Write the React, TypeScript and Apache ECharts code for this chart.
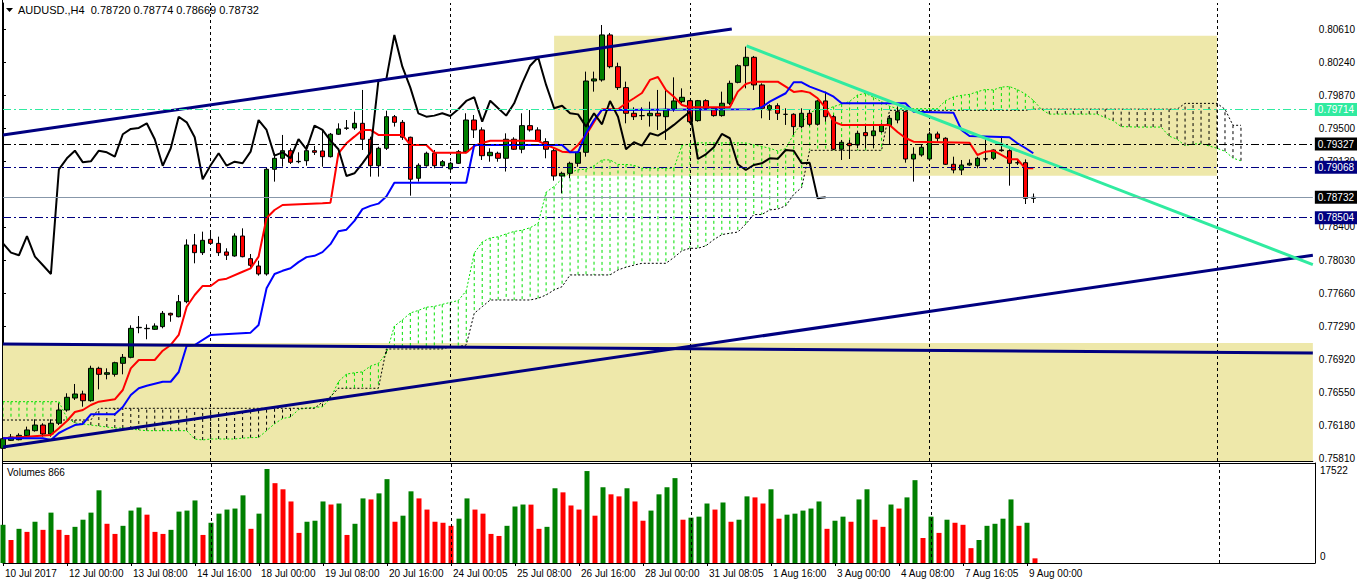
import React, { useEffect, useRef } from 'react';
import * as echarts from 'echarts';

// ---------- data ----------
const symbolName = 'AUDUSD.,H4';
const timeLabels = ['10 Jul 2017', '12 Jul 00:00', '13 Jul 08:00', '14 Jul 16:00', '18 Jul 00:00', '19 Jul 08:00', '20 Jul 16:00', '24 Jul 00:05', '25 Jul 08:00', '26 Jul 16:00', '28 Jul 00:00', '31 Jul 08:05', '1 Aug 16:00', '3 Aug 00:00', '4 Aug 08:00', '7 Aug 16:05', '9 Aug 00:00'];

const opens = [
  0.75926, 0.76015, 0.76022, 0.76067, 0.76123, 0.76186, 0.76086, 0.76206, 0.76354, 0.76488,
  0.76533, 0.76458, 0.76820, 0.76753, 0.76753, 0.76876, 0.76943, 0.77274, 0.77263, 0.77256,
  0.77286, 0.77435, 0.77397, 0.77565, 0.78199, 0.78113, 0.78262, 0.78217, 0.78121, 0.78076,
  0.78299, 0.78046, 0.77964, 0.77875, 0.79045, 0.79168, 0.79253, 0.79130, 0.79141, 0.79253,
  0.79250, 0.79186, 0.79437, 0.79503, 0.79507, 0.79559, 0.79381, 0.79085, 0.79280, 0.79633,
  0.79570, 0.79403, 0.78945, 0.79085, 0.79224, 0.79085, 0.79049, 0.79112, 0.79242, 0.79596,
  0.79485, 0.79197, 0.79224, 0.79168, 0.79381, 0.79269, 0.79533, 0.79485, 0.79354, 0.79253,
  0.78970, 0.79000, 0.79112, 0.79235, 0.80032, 0.80044, 0.80547, 0.80192, 0.79958, 0.79671,
  0.79644, 0.79644, 0.79671, 0.79633, 0.79716, 0.79801, 0.79812, 0.79589, 0.79812, 0.79727,
  0.79645, 0.79783, 0.80017, 0.80203, 0.80297, 0.79988, 0.79708, 0.79756, 0.79660, 0.79660,
  0.79522, 0.79671, 0.79548, 0.79809, 0.79633, 0.79269, 0.79336, 0.79317, 0.79455, 0.79421,
  0.79466, 0.79533, 0.79596, 0.79689, 0.79160, 0.79205, 0.79160, 0.79440, 0.79392, 0.79101,
  0.79037, 0.79093, 0.79085, 0.79160, 0.79168, 0.79261, 0.79253, 0.79119, 0.79119, 0.78720,
];
const closes = [
  0.76033, 0.76052, 0.76071, 0.76131, 0.76186, 0.76086, 0.76206, 0.76354, 0.76496, 0.76533,
  0.76458, 0.76820, 0.76753, 0.76771, 0.76883, 0.76943, 0.77267, 0.77278, 0.77267, 0.77293,
  0.77435, 0.77416, 0.77565, 0.78199, 0.78113, 0.78251, 0.78217, 0.78113, 0.78084, 0.78299,
  0.78068, 0.77972, 0.77875, 0.79045, 0.79168, 0.79253, 0.79123, 0.79134, 0.79253, 0.79235,
  0.79186, 0.79437, 0.79496, 0.79507, 0.79559, 0.79381, 0.79085, 0.79280, 0.79633, 0.79570,
  0.79403, 0.78934, 0.79090, 0.79224, 0.79085, 0.79130, 0.79112, 0.79242, 0.79596, 0.79485,
  0.79197, 0.79235, 0.79168, 0.79381, 0.79269, 0.79533, 0.79485, 0.79365, 0.79269, 0.78970,
  0.79000, 0.79112, 0.79235, 0.80032, 0.80055, 0.80547, 0.80192, 0.79958, 0.79671, 0.79633,
  0.79645, 0.79671, 0.79641, 0.79716, 0.79809, 0.79850, 0.79577, 0.79812, 0.79727, 0.79645,
  0.79783, 0.80006, 0.80203, 0.80297, 0.79988, 0.79727, 0.79756, 0.79671, 0.79659, 0.79522,
  0.79671, 0.79548, 0.79809, 0.79633, 0.79269, 0.79347, 0.79309, 0.79447, 0.79421, 0.79474,
  0.79541, 0.79615, 0.79689, 0.79160, 0.79213, 0.79291, 0.79440, 0.79392, 0.79101, 0.79037,
  0.79093, 0.79112, 0.79168, 0.79162, 0.79261, 0.79253, 0.79112, 0.79117, 0.78720, 0.78732,
];
const lows = [
  0.75907, 0.76008, 0.76015, 0.76056, 0.76112, 0.76056, 0.76056, 0.76186, 0.76335, 0.76466,
  0.76391, 0.76447, 0.76585, 0.76697, 0.76727, 0.76753, 0.76932, 0.77212, 0.77145, 0.77249,
  0.77267, 0.77341, 0.77390, 0.77547, 0.77994, 0.78087, 0.78199, 0.78076, 0.78031, 0.78068,
  0.78061, 0.77931, 0.77856, 0.77856, 0.78907, 0.79074, 0.79104, 0.79112, 0.79085, 0.79205,
  0.79074, 0.79177, 0.79429, 0.79485, 0.79485, 0.79261, 0.78963, 0.78963, 0.79261, 0.79522,
  0.79373, 0.78750, 0.78907, 0.79074, 0.79056, 0.79074, 0.79020, 0.79104, 0.79224, 0.79395,
  0.79149, 0.79130, 0.79130, 0.79020, 0.79261, 0.79224, 0.79466, 0.79354, 0.79168, 0.78918,
  0.78777, 0.78945, 0.79074, 0.79186, 0.79913, 0.80025, 0.80174, 0.79932, 0.79559, 0.79596,
  0.79596, 0.79522, 0.79485, 0.79373, 0.79689, 0.79783, 0.79559, 0.79577, 0.79708, 0.79633,
  0.79633, 0.79764, 0.80006, 0.79950, 0.79932, 0.79615, 0.79596, 0.79596, 0.79541, 0.79429,
  0.79503, 0.79529, 0.79533, 0.79577, 0.79261, 0.79149, 0.79160, 0.79280, 0.79280, 0.79280,
  0.79455, 0.79325, 0.79559, 0.79119, 0.78907, 0.79186, 0.79149, 0.79354, 0.79093, 0.79000,
  0.78981, 0.79085, 0.79056, 0.79130, 0.79149, 0.79242, 0.78862, 0.79093, 0.78657, 0.78669,
];
const highs = [
  0.76064, 0.76086, 0.76094, 0.76168, 0.76250, 0.76206, 0.76250, 0.76429, 0.76541, 0.76645,
  0.76570, 0.76849, 0.76838, 0.76820, 0.76894, 0.76980, 0.77301, 0.77405, 0.77312, 0.77323,
  0.77461, 0.77442, 0.77640, 0.78262, 0.78322, 0.78348, 0.78337, 0.78292, 0.78162, 0.78329,
  0.78385, 0.78098, 0.78023, 0.79060, 0.79224, 0.79429, 0.79280, 0.79235, 0.79317, 0.79306,
  0.79485, 0.79451, 0.79559, 0.79596, 0.79689, 0.79932, 0.79410, 0.79298, 0.79700, 0.79652,
  0.79596, 0.79410, 0.79112, 0.79242, 0.79261, 0.79149, 0.79130, 0.79261, 0.79671, 0.79652,
  0.79515, 0.79280, 0.79242, 0.79447, 0.79403, 0.79671, 0.79708, 0.79515, 0.79392, 0.79280,
  0.79018, 0.79130, 0.79242, 0.80137, 0.80137, 0.80658, 0.80569, 0.80237, 0.80025, 0.79738,
  0.79738, 0.79801, 0.79932, 0.79940, 0.80073, 0.79950, 0.79820, 0.79820, 0.79828, 0.79738,
  0.79913, 0.80036, 0.80218, 0.80416, 0.80312, 0.80006, 0.79772, 0.79783, 0.79727, 0.79671,
  0.79727, 0.79708, 0.79820, 0.79913, 0.79652, 0.79373, 0.79373, 0.79477, 0.79541, 0.79541,
  0.79559, 0.79652, 0.79747, 0.79700, 0.79291, 0.79317, 0.79466, 0.79466, 0.79403, 0.79186,
  0.79149, 0.79156, 0.79186, 0.79392, 0.79269, 0.79418, 0.79269, 0.79156, 0.79156, 0.78774,
];
const volumes = [
  7120, 4290, 6370, 5800, 7690, 6180, 9390, 6180, 5230, 6740,
  8070, 9390, 13550, 7310, 5420, 6930, 9770, 10340, 9010, 5800,
  5420, 6180, 9580, 9770, 11660, 5230, 7500, 9200, 9960, 10150,
  12610, 6370, 9200, 17522, 14880, 13740, 11470, 5610, 7690, 7880,
  11470, 10900, 11090, 5230, 7310, 12040, 11850, 12980, 15630, 7690,
  8820, 13360, 12040, 9960, 7690, 7500, 6930, 8260, 12040, 9960,
  9200, 5420, 5040, 6930, 10530, 10900, 10880, 6370, 6740, 13930,
  13170, 10720, 9960, 17140, 8820, 14120, 12800, 12420, 13930, 11470,
  7880, 9770, 12800, 14120, 15820, 8070, 8450, 8640, 11090, 9960,
  11280, 7690, 8070, 12420, 12230, 11090, 13740, 8260, 9010, 9200,
  9770, 10150, 11470, 6370, 7880, 8640, 7690, 11850, 13740, 8070,
  6740, 10900, 10150, 12230, 15440, 4660, 8640, 5610, 8070, 7500,
  7120, 2770, 4290, 6930, 7310, 8260, 11850, 6930, 7500, 866,
];
// Ichimoku Tenkan-sen / Kijun-sen breakpoints [bar, price]
const tenkan = [
  [0, 0.76038], [3, 0.76056], [6, 0.76075], [7, 0.76149], [8, 0.76231], [9, 0.76332], [10, 0.76354], [11, 0.76410], [12, 0.76447], [14, 0.76474],
  [15, 0.76578], [16, 0.76820], [17, 0.76913], [19, 0.76913], [20, 0.77017], [21, 0.77081], [22, 0.77193], [23, 0.77509], [24, 0.77640], [25, 0.77741],
  [26, 0.77741], [27, 0.77808], [28, 0.77822], [30, 0.77900], [31, 0.77938], [32, 0.78068], [33, 0.78501], [34, 0.78590], [35, 0.78646], [40, 0.78665],
  [41, 0.78672], [42, 0.79224], [43, 0.79336], [44, 0.79410], [45, 0.79485], [46, 0.79485], [47, 0.79429], [50, 0.79429], [51, 0.79317], [53, 0.79317],
  [54, 0.79231], [58, 0.79231], [59, 0.79306], [60, 0.79339], [61, 0.79365], [66, 0.79365], [67, 0.79362], [68, 0.79317], [69, 0.79283], [70, 0.79242],
  [71, 0.79235], [72, 0.79317], [73, 0.79429], [74, 0.79574], [75, 0.79716], [77, 0.79716], [78, 0.79783], [79, 0.79839], [80, 0.79898], [81, 0.80044],
  [82, 0.80077], [83, 0.79932], [84, 0.79857], [85, 0.79764], [86, 0.79738], [91, 0.79738], [92, 0.79913], [93, 0.79999], [94, 0.80025], [97, 0.80025],
  [98, 0.79969], [99, 0.79910], [100, 0.79921], [101, 0.79902], [102, 0.79839], [103, 0.79731], [104, 0.79577], [105, 0.79541], [111, 0.79541], [112, 0.79462],
  [113, 0.79395], [114, 0.79354], [121, 0.79343], [122, 0.79205], [123, 0.79242], [124, 0.79253], [125, 0.79205], [126, 0.79157], [127, 0.79157], [128, 0.79056],
  [129, 0.79056],
];
const kijun = [
  [0, 0.76038], [5, 0.76038], [6, 0.76019], [7, 0.76097], [8, 0.76142], [9, 0.76186], [10, 0.76198], [11, 0.76306], [14, 0.76306], [15, 0.76388],
  [16, 0.76522], [17, 0.76597], [18, 0.76626], [20, 0.76670], [21, 0.76670], [22, 0.76779], [23, 0.77073], [24, 0.77081], [26, 0.77193], [31, 0.77219],
  [32, 0.77305], [33, 0.77715], [34, 0.77875], [35, 0.77910], [36, 0.77938], [37, 0.78007], [38, 0.78063], [39, 0.78078], [40, 0.78119], [41, 0.78208],
  [42, 0.78352], [43, 0.78370], [44, 0.78469], [45, 0.78600], [46, 0.78636], [47, 0.78661], [48, 0.78740], [49, 0.78894], [58, 0.78894], [59, 0.79317],
  [70, 0.79317], [71, 0.79235], [72, 0.79235], [73, 0.79447], [74, 0.79596], [75, 0.79708], [94, 0.79716], [95, 0.79738], [96, 0.79801], [98, 0.79895],
  [99, 0.80018], [100, 0.80018], [101, 0.79969], [103, 0.79902], [104, 0.79857], [105, 0.79783], [113, 0.79783], [114, 0.79689], [119, 0.79678], [120, 0.79485],
  [121, 0.79418], [126, 0.79403], [127, 0.79336], [128, 0.79283], [129, 0.79224],
];
// Senkou Span A / B per bar (bars 0..155, shifted 26 bars ahead)
const spanA = [
  0.76447, 0.76447, 0.76447, 0.76447, 0.76447, 0.76447, 0.76447, 0.76447, 0.76265, 0.76209,
  0.76198, 0.76186, 0.76175, 0.76164, 0.76153, 0.76153, 0.76142, 0.76131, 0.76123, 0.76123,
  0.76123, 0.76123, 0.76123, 0.76123, 0.76030, 0.76019, 0.76030, 0.76030, 0.76030, 0.76030,
  0.76040, 0.76045, 0.76047, 0.76123, 0.76200, 0.76259, 0.76276, 0.76358, 0.76377, 0.76383,
  0.76390, 0.76483, 0.76671, 0.76755, 0.76770, 0.76780, 0.76844, 0.76876, 0.76986, 0.77291,
  0.77361, 0.77439, 0.77467, 0.77503, 0.77512, 0.77535, 0.77557, 0.77578, 0.77686, 0.78108,
  0.78232, 0.78278, 0.78290, 0.78323, 0.78350, 0.78364, 0.78392, 0.78440, 0.78788, 0.78853,
  0.78940, 0.79010, 0.79040, 0.79045, 0.79085, 0.79150, 0.79150, 0.79099, 0.79099, 0.79090,
  0.79056, 0.79056, 0.79056, 0.79056, 0.79056, 0.79312, 0.79328, 0.79341, 0.79341, 0.79341,
  0.79341, 0.79341, 0.79341, 0.79340, 0.79317, 0.79300, 0.79280, 0.79250, 0.79276, 0.79438,
  0.79560, 0.79680, 0.79712, 0.79712, 0.79746, 0.79774, 0.79803, 0.79876, 0.79893, 0.79850,
  0.79800, 0.79750, 0.79723, 0.79723, 0.79723, 0.79723, 0.79723, 0.79723, 0.79811, 0.79854,
  0.79871, 0.79882, 0.79913, 0.79937, 0.79932, 0.79964, 0.79970, 0.79936, 0.79888, 0.79817,
  0.79717, 0.79662, 0.79662, 0.79662, 0.79662, 0.79662, 0.79662, 0.79662, 0.79623, 0.79589,
  0.79522, 0.79520, 0.79517, 0.79517, 0.79517, 0.79517, 0.79416, 0.79381, 0.79310, 0.79327,
  0.79331, 0.79306, 0.79280, 0.79247, 0.79170, 0.79140,
];
const spanB = [
  0.76242, 0.76242, 0.76242, 0.76242, 0.76242, 0.76242, 0.76242, 0.76242, 0.76242, 0.76242,
  0.76242, 0.76242, 0.76373, 0.76373, 0.76373, 0.76373, 0.76373, 0.76373, 0.76373, 0.76373,
  0.76373, 0.76373, 0.76373, 0.76373, 0.76373, 0.76373, 0.76373, 0.76373, 0.76373, 0.76373,
  0.76373, 0.76373, 0.76373, 0.76373, 0.76373, 0.76373, 0.76373, 0.76373, 0.76373, 0.76373,
  0.76443, 0.76503, 0.76597, 0.76597, 0.76597, 0.76597, 0.76597, 0.76597, 0.77036, 0.77036,
  0.77036, 0.77036, 0.77036, 0.77036, 0.77036, 0.77036, 0.77062, 0.77062, 0.77081, 0.77435,
  0.77509, 0.77584, 0.77584, 0.77584, 0.77584, 0.77584, 0.77584, 0.77603, 0.77640, 0.77696,
  0.77733, 0.77864, 0.77864, 0.77864, 0.77864, 0.77864, 0.77864, 0.77920, 0.77950, 0.77974,
  0.77994, 0.77994, 0.77994, 0.77994, 0.78059, 0.78134, 0.78162, 0.78162, 0.78190, 0.78259,
  0.78315, 0.78330, 0.78343, 0.78432, 0.78539, 0.78539, 0.78591, 0.78600, 0.78637, 0.78764,
  0.78842, 0.79257, 0.79257, 0.79257, 0.79257, 0.79257, 0.79257, 0.79257, 0.79257, 0.79257,
  0.79257, 0.79704, 0.79704, 0.79704, 0.79704, 0.79704, 0.79704, 0.79704, 0.79704, 0.79704,
  0.79704, 0.79704, 0.79704, 0.79704, 0.79704, 0.79704, 0.79704, 0.79704, 0.79704, 0.79717,
  0.79717, 0.79717, 0.79717, 0.79717, 0.79717, 0.79717, 0.79717, 0.79717, 0.79717, 0.79717,
  0.79717, 0.79717, 0.79717, 0.79717, 0.79717, 0.79717, 0.79717, 0.79717, 0.79782, 0.79782,
  0.79782, 0.79782, 0.79782, 0.79716, 0.79537, 0.79537,
];
// drawn objects (bar index, price)
const upperChannel = [[0, 0.79429], [91.25, 0.80614]];
const lowerChannel = [[0, 0.75941], [164, 0.78084]];
const flatLine = [[0, 0.77092], [164, 0.76991]];
const tealTrend = [[93.1, 0.80424], [164, 0.77979]];
const zones = [
  [69, 0.80539, 152, 0.78974],
  [0, 0.77103, 164, 0.75784],
];
const separators = [26, 56, 86, 116, 152];
const levelPrices = [0.79714, 0.79327, 0.79068, 0.78732, 0.78504];
const priceTicks = [0.7581, 0.7618, 0.7655, 0.7692, 0.7729, 0.7766, 0.7803, 0.784, 0.7913, 0.795, 0.7987, 0.8024, 0.8061];
const CHIKOU_SHIFT = 26;
const SLOTS = 165;

export default function App() {
  const ref = useRef<HTMLDivElement>(null);
  useEffect(() => {
    document.body.style.margin = '0';
    const chart = echarts.init(ref.current as HTMLDivElement, null, { renderer: 'svg' });
    const FONT = 'Liberation Sans, Arial, sans-serif';
    const cats = Array.from({ length: SLOTS }, (_, i) => 'b' + i);
    const showLabel = (i: number) => i % 8 === 0 && i / 8 < timeLabels.length;

    const levelLine = ['#30EBA0', '#000000', '#000080', '#8797AA', '#000080'];
    const levelBox = ['#30EBA0', '#000000', '#000080', '#000000', '#000080'];
    const levelDash: any[] = [[8, 3, 2, 3], [8, 3, 2, 3], [8, 3, 2, 3], 'solid', [8, 3, 2, 3]];

    const candleData = opens.map((o, i) => [o, closes[i], lows[i], highs[i]]);
    const chikou = closes.slice(CHIKOU_SHIFT);
    const volData = volumes.map((v, i) => ({
      value: v,
      itemStyle: { color: i === 0 || v > volumes[i - 1] ? '#008000' : '#FF0000' },
    }));
    const cloud = spanA.map((a, i) => [i, a, spanB[i]]);
    const sepLines = (extra: any) => ({
      silent: true,
      symbol: ['none', 'none'],
      label: { show: false },
      lineStyle: { color: '#000', type: [3, 3], width: 1 },
      data: separators.map((s) => ({ xAxis: s })),
      ...extra,
    });

    const last = opens.length - 1;
    const title = `${symbolName}\u00a0 ${opens[last].toFixed(5)} ${highs[last].toFixed(5)} ${lows[last].toFixed(5)} ${closes[last].toFixed(5)}`;
    const volMax = Math.max(...volumes);

    const option: any = {
      animation: false,
      backgroundColor: '#fff',
      grid: [
        { left: 3, top: 3, width: 1312, height: 458 },
        { left: 3, top: 463, width: 1312, height: 100 },
      ],
      xAxis: [
        {
          type: 'category', gridIndex: 0, data: cats, boundaryGap: false,
          axisLine: { show: true, lineStyle: { color: '#000', width: 1 } },
          axisTick: { show: false }, axisLabel: { show: false }, splitLine: { show: false },
        },
        {
          type: 'category', gridIndex: 1, data: cats, boundaryGap: false,
          axisLine: { show: true, lineStyle: { color: '#000', width: 1 } },
          axisTick: { show: true, interval: (i: number) => showLabel(i), length: 3, lineStyle: { color: '#000' } },
          axisLabel: {
            show: true, interval: (i: number) => showLabel(i),
            formatter: (_v: string, i: number) => (showLabel(i) ? timeLabels[i / 8] : ''),
            align: 'left', margin: 5, padding: [0, 0, 0, 2], fontSize: 10, fontFamily: FONT, color: '#000',
          },
          splitLine: { show: false },
        },
        { type: 'value', gridIndex: 0, min: 0, max: SLOTS - 1, show: false },
      ],
      yAxis: [
        {
          type: 'value', gridIndex: 0, position: 'right', min: 0.75784, max: 0.80904, scale: true,
          axisLine: { show: true, lineStyle: { color: '#000', width: 1 } },
          axisTick: { show: true, customValues: priceTicks, length: 3, lineStyle: { color: '#000' } },
          axisLabel: {
            show: true, customValues: priceTicks, formatter: (v: number) => v.toFixed(5),
            margin: 6, fontSize: 10, fontFamily: FONT, color: '#000',
          },
          splitLine: { show: false },
        },
        {
          type: 'value', gridIndex: 1, position: 'right', min: 0, max: 18640,
          axisLine: { show: true, lineStyle: { color: '#000', width: 1 } },
          axisTick: { show: false }, axisLabel: { show: false }, splitLine: { show: false },
        },
      ],
      series: [
        {
          name: 'cloud', type: 'custom', xAxisIndex: 0, yAxisIndex: 0, z: 2, silent: true, clip: true,
          encode: { x: 0, y: [1, 2] },
          data: cloud,
          renderItem: (_p: any, api: any) => {
            const x = api.value(0);
            const a = api.value(1);
            const b = api.value(2);
            const p1 = api.coord([x, a]);
            const p2 = api.coord([x, b]);
            return {
              type: 'line',
              shape: { x1: p1[0], y1: p1[1], x2: p2[0], y2: p2[1] },
              style: { stroke: a >= b ? '#00E000' : '#000000', lineWidth: 1, lineDash: [3, 3] },
            };
          },
          markArea: {
            silent: true, z: 1,
            itemStyle: { color: '#EEE8AA' },
            data: zones.map((zn) => [{ coord: [zn[0], zn[1]] }, { coord: [zn[2], zn[3]] }]),
          },
          markLine: sepLines({ z: 3 }),
        },
        {
          name: 'spanA', type: 'line', xAxisIndex: 0, yAxisIndex: 0, data: spanA, z: 2, silent: true,
          showSymbol: false, symbol: 'none',
          lineStyle: { color: '#00E000', width: 1, type: [2, 2] },
        },
        {
          name: 'spanB', type: 'line', xAxisIndex: 0, yAxisIndex: 0, data: spanB, z: 2, silent: true,
          showSymbol: false, symbol: 'none',
          lineStyle: { color: '#000000', width: 1, type: [2, 2] },
        },
        {
          name: 'price', type: 'candlestick', xAxisIndex: 0, yAxisIndex: 0, data: candleData, z: 3, silent: true,
          barWidth: 5,
          itemStyle: { color: '#008000', color0: '#FF0000', borderColor: '#000', borderColor0: '#000', borderColorDoji: '#000', borderWidth: 1 },
        },
        {
          name: 'tenkan', type: 'line', xAxisIndex: 0, yAxisIndex: 0, data: tenkan, z: 4, silent: true,
          showSymbol: false, symbol: 'none', lineStyle: { color: '#FF0000', width: 2 },
        },
        {
          name: 'kijun', type: 'line', xAxisIndex: 0, yAxisIndex: 0, data: kijun, z: 4, silent: true,
          showSymbol: false, symbol: 'none', lineStyle: { color: '#0000FF', width: 2 },
        },
        {
          name: 'chikou', type: 'line', xAxisIndex: 0, yAxisIndex: 0, data: chikou, z: 4, silent: true,
          showSymbol: false, symbol: 'none', lineStyle: { color: '#000000', width: 2 },
        },
        {
          name: 'upper', type: 'line', xAxisIndex: 2, yAxisIndex: 0, data: upperChannel, z: 5, silent: true,
          showSymbol: false, symbol: 'none', lineStyle: { color: '#000080', width: 3 },
          markLine: {
            silent: true, z: 6, symbol: ['none', 'none'], precision: 5,
            data: levelPrices.map((p, i) => ({
              yAxis: p,
              lineStyle: { color: levelLine[i], width: 1, type: levelDash[i] },
              label: {
                show: true, position: 'end', distance: 2, formatter: p.toFixed(5),
                color: '#fff', backgroundColor: levelBox[i], padding: [2, 3, 1, 3],
                fontSize: 10, fontFamily: FONT,
              },
            })),
          },
        },
        {
          name: 'lower', type: 'line', xAxisIndex: 2, yAxisIndex: 0, data: lowerChannel, z: 5, silent: true,
          showSymbol: false, symbol: 'none', lineStyle: { color: '#000080', width: 3 },
        },
        {
          name: 'flat', type: 'line', xAxisIndex: 2, yAxisIndex: 0, data: flatLine, z: 5, silent: true,
          showSymbol: false, symbol: 'none', lineStyle: { color: '#000080', width: 3 },
        },
        {
          name: 'teal', type: 'line', xAxisIndex: 2, yAxisIndex: 0, data: tealTrend, z: 5, silent: true,
          showSymbol: false, symbol: 'none', lineStyle: { color: '#30EBA0', width: 3 },
        },
        {
          name: 'volume', type: 'bar', xAxisIndex: 1, yAxisIndex: 1, data: volData, barWidth: 5, silent: true,
          markLine: sepLines({}),
        },
      ],
      graphic: [
        { type: 'polygon', shape: { points: [[6, 8], [13, 8], [9.5, 12]] }, style: { fill: '#000' }, silent: true },
        { type: 'text', x: 18, y: 10, style: { text: title, fill: '#000', fontSize: 11, fontFamily: FONT, verticalAlign: 'middle' }, silent: true },
        { type: 'text', x: 7, y: 472, style: { text: `Volumes ${volumes[last]}`, fill: '#000', fontSize: 10, fontFamily: FONT, verticalAlign: 'middle' }, silent: true },
        { type: 'text', x: 1320, y: 470, style: { text: String(volMax), fill: '#000', fontSize: 10, fontFamily: FONT, verticalAlign: 'middle' }, silent: true },
        { type: 'text', x: 1320, y: 556, style: { text: '0', fill: '#000', fontSize: 10, fontFamily: FONT, verticalAlign: 'middle' }, silent: true },
        { type: 'line', shape: { x1: 2.5, y1: 0, x2: 2.5, y2: 563 }, style: { stroke: '#000', lineWidth: 1 }, silent: true },
        { type: 'line', shape: { x1: 2.5, y1: 463.5, x2: 1315.5, y2: 463.5 }, style: { stroke: '#000', lineWidth: 1 }, silent: true },
      ],
    };
    chart.setOption(option);
    return () => chart.dispose();
  }, []);
  return <div ref={ref} style={{ position: 'absolute', left: 0, top: 0, width: 1358, height: 584, background: '#fff' }} />;
}
